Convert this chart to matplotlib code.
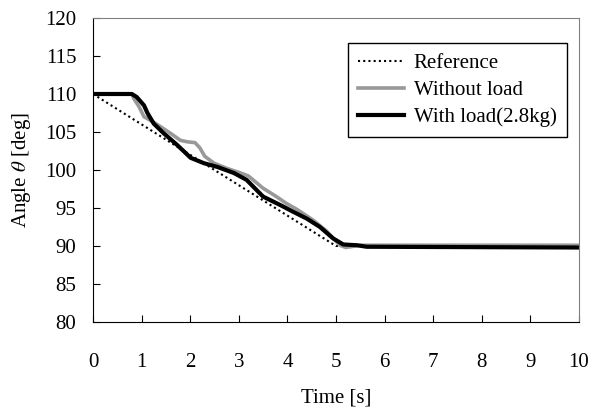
import matplotlib
matplotlib.use("Agg")
import matplotlib.pyplot as plt

plt.rcParams['font.family'] = ['Liberation Serif', 'DejaVu Serif']
plt.rcParams['mathtext.fontset'] = 'stix'

# reference trajectory
ref_t = [0, 5, 10]
ref_deg = [110, 90, 90]

# without load (gray)
free_t = [0, 0.8, 0.84, 0.95, 1.05, 1.22, 1.39, 1.6, 1.8, 1.95, 2.1, 2.2, 2.3, 2.49,
          2.76, 3.04, 3.2, 3.5, 3.75, 3.98, 4.2, 4.53, 4.8, 5.08, 5.2, 5.5, 10]
free_deg = [110, 110, 109.4, 108.3, 107.0, 106.4, 105.7, 104.8, 103.9, 103.7, 103.6,
            102.9, 101.8, 100.9, 100.2, 99.6, 99.2, 97.6, 96.6, 95.6, 94.8, 93.4, 92.0,
            90.1, 89.8, 90.1, 90.1]

# with load 2.8 kg (black)
load_t = [0, 0.8, 0.9, 1.05, 1.12, 1.25, 1.46, 1.73, 2.01, 2.28, 2.56, 2.9, 3.16,
          3.5, 3.85, 4.12, 4.4, 4.67, 4.94, 5.15, 5.43, 5.63, 10]
load_deg = [110, 110, 109.6, 108.5, 107.5, 106.1, 104.8, 103.3, 101.6, 100.9, 100.4,
            99.6, 98.7, 96.5, 95.4, 94.5, 93.6, 92.5, 91.0, 90.2, 90.1, 89.9, 89.8]

fig = plt.figure(figsize=(5.98, 4.08), dpi=100)
ax = fig.add_axes([0.1555, 0.2108, 0.8127, 0.7451])

ax.plot(ref_t, ref_deg, color='black', linewidth=1.5, linestyle=(0, (1, 1.5)),
        label='Reference')
ax.plot(free_t, free_deg, color='#999999', linewidth=2.6, label='Without load')
ax.plot(load_t, load_deg, color='black', linewidth=3.0, label='With load(2.8kg)')

ax.set_xlim(0, 10)
ax.set_ylim(80, 120)
ax.set_xticks(range(0, 11))
ax.set_yticks(range(80, 121, 5))
ax.tick_params(direction='in', length=5, width=0.8, labelsize=15, top=False, right=False)
ax.tick_params(axis='x', pad=22)
ax.tick_params(axis='y', pad=12)

for s in ['top', 'right']:
    ax.spines[s].set_color('#808080')
for s in ['left', 'bottom']:
    ax.spines[s].set_color('black')

ax.set_xlabel('Time [s]', fontsize=15, labelpad=12)
ax.set_ylabel(r'Angle $\theta$ [deg]', fontsize=15, labelpad=9)

leg = ax.legend(loc='upper right', bbox_to_anchor=(0.948, 0.8946),
                bbox_transform=fig.transFigure, borderaxespad=0,
                fontsize=15, fancybox=False, edgecolor='black', framealpha=1,
                borderpad=0.5, labelspacing=0.35, handlelength=2.2, handletextpad=0.45)
leg.get_frame().set_linewidth(1.0)

fig.savefig('out.png', dpi=100)
